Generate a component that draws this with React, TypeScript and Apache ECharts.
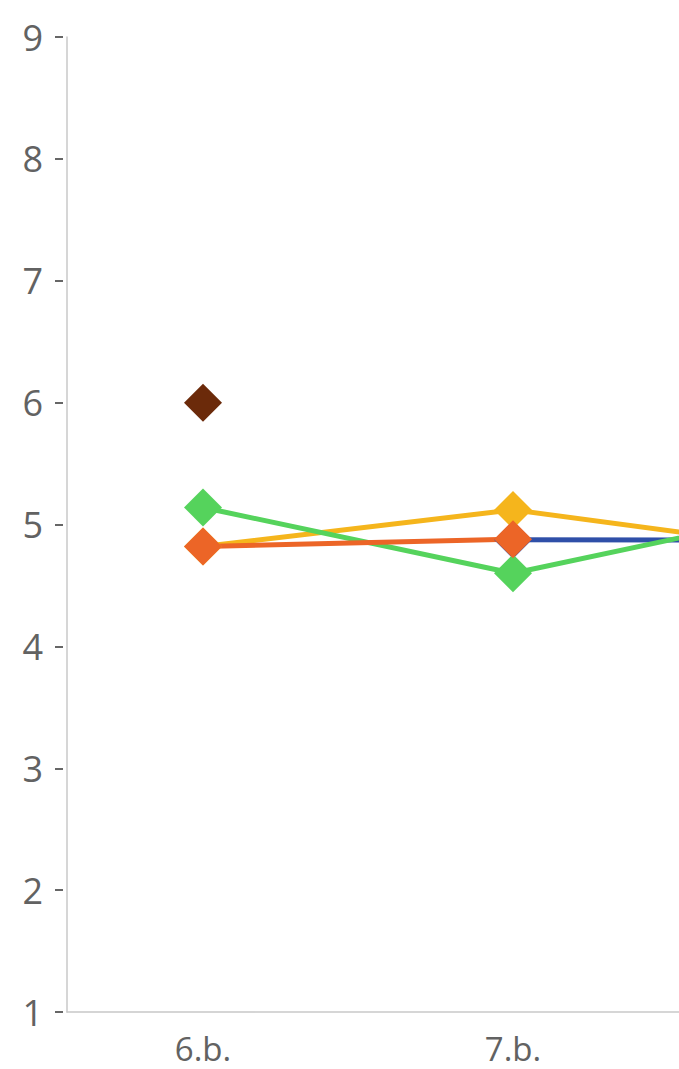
import React, { useEffect, useRef } from "react";
import * as echarts from "echarts";

const categories = ["6.b.", "7.b.", "8.b."];
const blueValues = [null, 4.875, 4.87];
const yellowValues = [4.82, 5.12, 4.78];
const greenValues = [5.14, 4.6, 5.14];
const orangeValues = [4.82, 4.88, null];
const brownValues = [6.0, null, null];
const yTicks = [1, 2, 3, 4, 5, 6, 7, 8, 9];

const W = 679;
const H = 1069;
const LABEL_COLOR = "#626262";
const FONT = "'Open Sans', 'Noto Sans', sans-serif";

function toPoints(vals: (number | null)[]) {
  return vals.map((v, i) => [i, v]);
}

export default function App() {
  const ref = useRef<HTMLDivElement>(null);
  useEffect(() => {
    document.body.style.margin = "0";
    if (!ref.current) return;
    const chart = echarts.init(ref.current, undefined, { renderer: "svg" });
    const left = 67;
    const right = 0;
    const firstX = 203;
    const step = 310;
    const xmin = -(firstX - left) / step;
    const xmax = (W - right - firstX) / step;
    const mk = (name: string, color: string, vals: (number | null)[]) => ({
      name,
      type: "line",
      data: toPoints(vals),
      symbol: "diamond",
      symbolSize: 38,
      showSymbol: true,
      connectNulls: false,
      lineStyle: { color, width: 5 },
      itemStyle: { color },
      clip: true,
    });
    chart.setOption({
      animation: false,
      grid: { left, right, top: 37, bottom: H - 1012, containLabel: false },
      xAxis: {
        type: "value",
        min: xmin,
        max: xmax,
        axisLine: { show: true, onZero: false, lineStyle: { color: "#c8c8c8", width: 1.5 } },
        axisTick: { show: false },
        splitLine: { show: false },
        axisLabel: {
          customValues: [0, 1, 2],
          formatter: (v: number) => categories[Math.round(v)] ?? "",
          color: LABEL_COLOR,
          fontSize: 33,
          lineHeight: 30,
          fontFamily: FONT,
          margin: 21,
        },
      },
      yAxis: [
        {
          type: "value",
          min: yTicks[0],
          max: yTicks[yTicks.length - 1],
          interval: 1,
          axisLine: { show: true, onZero: false, lineStyle: { color: "#c8c8c8", width: 1.5 } },
          axisTick: { show: false },
          axisLabel: { show: false },
          splitLine: { show: false },
        },
        {
          type: "value",
          position: "left",
          offset: 4,
          min: yTicks[0],
          max: yTicks[yTicks.length - 1],
          interval: 1,
          axisLine: { show: false, onZero: false },
          axisTick: { show: true, length: 8, lineStyle: { color: "#666", width: 2 } },
          axisLabel: {
            color: LABEL_COLOR,
            fontSize: 36,
            fontFamily: FONT,
            margin: 20,
          },
          splitLine: { show: false },
        },
      ],
      series: [
        mk("Blue", "#2f4fa8", blueValues),
        mk("Yellow", "#f5b51c", yellowValues),
        mk("Green", "#55d35c", greenValues),
        mk("Orange", "#ec6527", orangeValues),
        mk("Brown", "#6b2a0a", brownValues),
      ],
    });
    return () => chart.dispose();
  }, []);
  return <div ref={ref} style={{ width: W, height: H }} />;
}
